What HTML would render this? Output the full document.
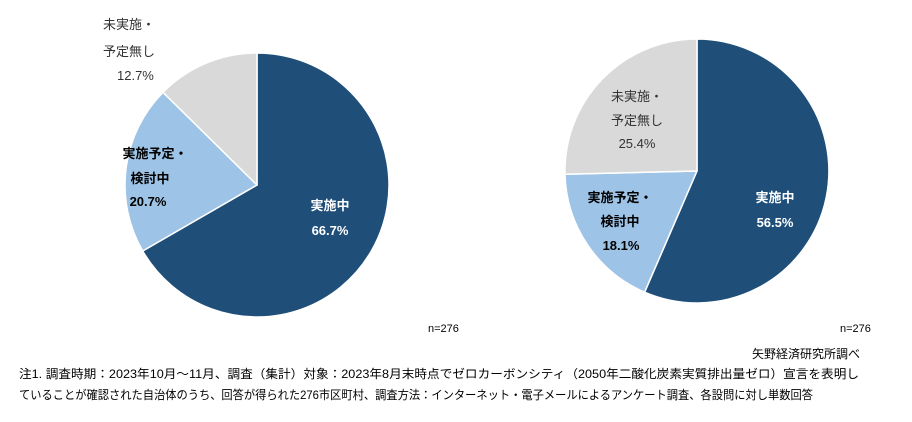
<!DOCTYPE html>
<html><head><meta charset="utf-8"><style>
body{margin:0;width:912px;height:417px;background:#fff;overflow:hidden;font-family:"Liberation Sans","Noto Sans CJK JP",sans-serif}
svg text{font-family:"Liberation Sans","Noto Sans CJK JP",sans-serif}
</style></head><body>
<svg width="912" height="417" xmlns="http://www.w3.org/2000/svg">
<g stroke="#fff" stroke-width="1.5" stroke-linejoin="round">
<path d="M257,185 L257,53 A132,132 0 1 1 142.7,251 Z" fill="#1f4e79"/>
<path d="M257,185 L142.7,251 A132,132 0 0 1 163,92.3 Z" fill="#9dc3e6"/>
<path d="M257,185 L163,92.3 A132,132 0 0 1 257,53 Z" fill="#d9d9d9"/>
<path d="M697,171 L697,39 A132,132 0 1 1 644.6,292.2 Z" fill="#1f4e79"/>
<path d="M697,171 L644.6,292.2 A132,132 0 0 1 565,174.3 Z" fill="#9dc3e6"/>
<path d="M697,171 L565,174.3 A132,132 0 0 1 697,39 Z" fill="#d9d9d9"/>
</g>
<g font-size="13" font-weight="bold" fill="#fff" text-anchor="middle">
<text x="330" y="210">実施中</text><text x="330" y="235">66.7%</text>
<text x="775" y="202">実施中</text><text x="775" y="227">56.5%</text>
</g>
<g font-size="13" font-weight="bold" fill="#000" text-anchor="middle">
<text x="155" y="158">実施予定・</text><text x="150" y="183">検討中</text><text x="148" y="206">20.7%</text>
<text x="620" y="202">実施予定・</text><text x="620" y="226">検討中</text><text x="621" y="250">18.1%</text>
</g>
<g font-size="13" fill="#333">
<text x="103" y="29">未実施・</text><text x="103" y="56">予定無し</text><text x="117" y="80">12.7%</text>
<text x="637" y="101" text-anchor="middle">未実施・</text><text x="637" y="125" text-anchor="middle">予定無し</text><text x="637" y="148" text-anchor="middle">25.4%</text>
</g>
<g font-size="11" fill="#000">
<text x="428" y="332">n=276</text><text x="840" y="332">n=276</text>
<text x="860" y="358" text-anchor="end" font-size="12">矢野経済研究所調べ</text>
<text x="19" y="378" font-size="12" textLength="840" lengthAdjust="spacingAndGlyphs">注1. 調査時期：2023年10月～11月、調査（集計）対象：2023年8月末時点でゼロカーボンシティ（2050年二酸化炭素実質排出量ゼロ）宣言を表明し</text>
<text x="19" y="399" font-size="12" textLength="794" lengthAdjust="spacingAndGlyphs">ていることが確認された自治体のうち、回答が得られた276市区町村、調査方法：インターネット・電子メールによるアンケート調査、各設問に対し単数回答</text>
</g>
</svg>
</body></html>
